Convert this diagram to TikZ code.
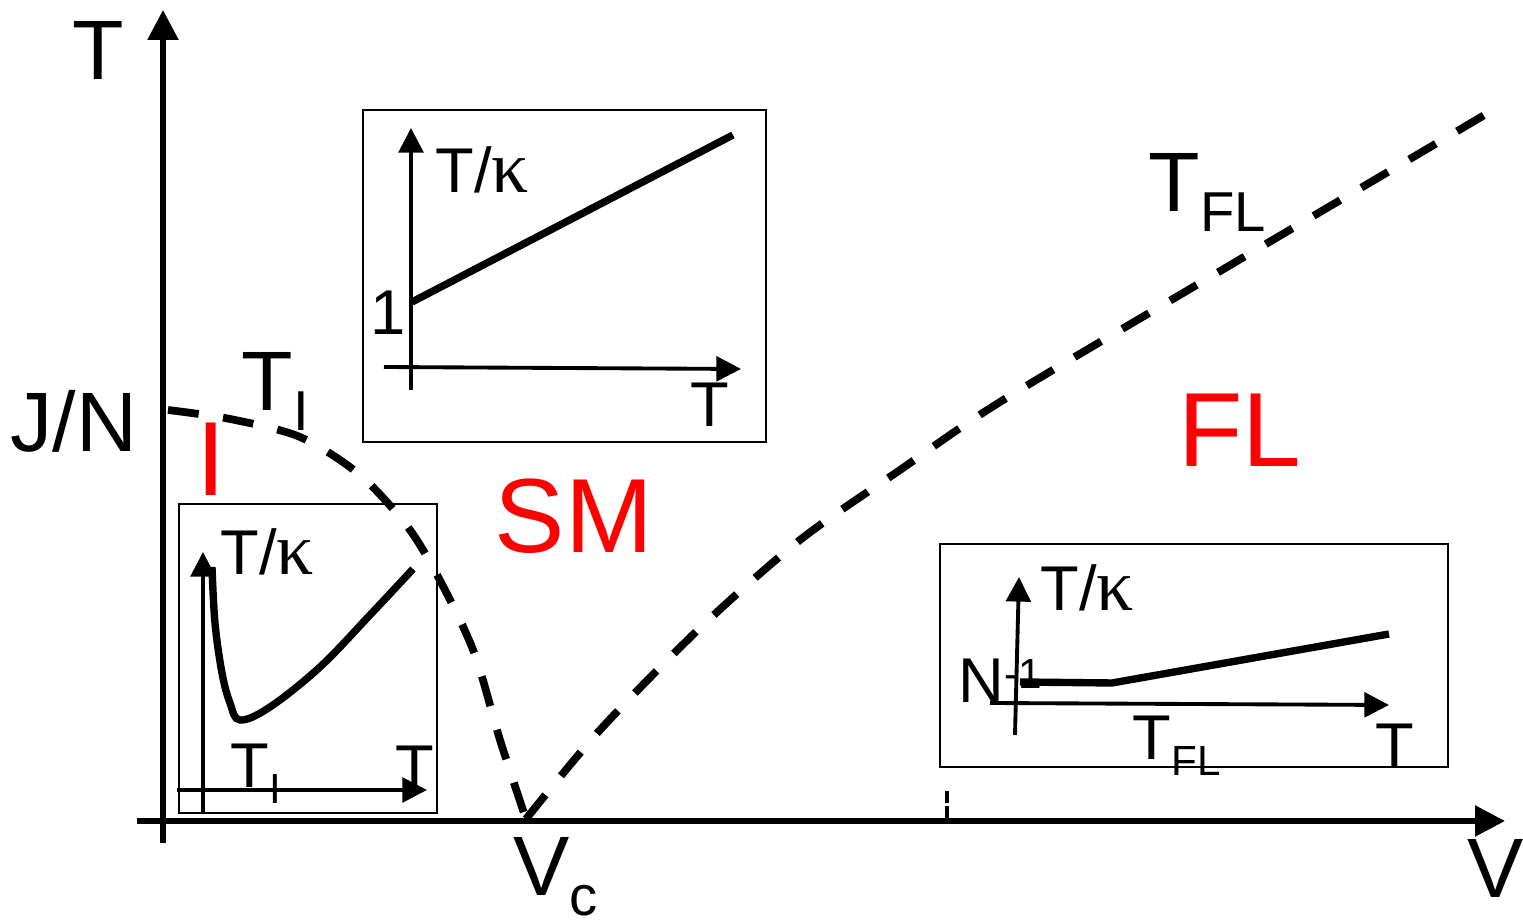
\documentclass[tikz,border=0pt]{standalone}
\usepackage{fontspec}
\setmainfont{Liberation Sans}
\newfontfamily\kapfont{Liberation Serif}
\usetikzlibrary{arrows.meta}

\newcommand{\Tk}{T/{\kapfont\fontsize{21}{21}\selectfont κ}}
\newcommand{\bigsub}[1]{\raisebox{-5.6pt}{\fontsize{16}{16}\selectfont #1}}
\newcommand{\insub}[1]{\raisebox{-4.3pt}{\fontsize{12}{12}\selectfont #1}}

\tikzset{
    axis/.style={line width=1.6pt, -{Triangle[length=8.5pt,width=8.5pt]}},
    inaxis/.style={line width=1.1pt, -{Triangle[length=7pt,width=7pt]}},
    insetbox/.style={line width=0.6pt},
    crossover/.style={line width=2.2pt, dash pattern=on 8.8pt off 7pt},
    response/.style={line width=2.1pt},
    biglabel/.style={font=\fontsize{24}{24}\selectfont, inner sep=0pt, anchor=base},
    phase/.style={text=red, font=\fontsize{30}{30}\selectfont, inner sep=0pt, anchor=base},
    inlabel/.style={font=\fontsize{18}{18}\selectfont, inner sep=0pt, anchor=base},
}

\begin{document}
\begin{tikzpicture}
    \useasboundingbox (0,0) rectangle (15.23,9.21);

    % Phase diagram axes
    \coordinate (Tlo) at (1.63,0.78);
    \coordinate (Thi) at (1.63,9.11);
    \coordinate (Vlo) at (1.37,1.00);
    \coordinate (Vhi) at (15.05,1.00);
    \coordinate (Vc) at (5.26,1.02);
    \draw[axis] (Tlo) -- (Thi);
    \draw[axis] (Vlo) -- (Vhi);
    \node[biglabel] (labT) at (0.985,8.41) {T};
    \node[biglabel] (labV) at (14.96,0.23) {V};
    \node[biglabel] (labJN) at (0.74,4.69) {J/N};
    \node[biglabel, anchor=base west] (labVc) at (5.13,0.25) {V\bigsub{c}};

    % small mark on the V axis
    \coordinate (mlo) at (9.47,1.03);
    \coordinate (mhi) at (9.47,1.31);
    \draw[line width=1.2pt, dash pattern=on 3.4pt off 1pt] (mlo) -- (mhi);

    % Inset: semimetal
    \draw[insetbox] (3.63,4.79) rectangle (7.66,8.11);
    \coordinate (smY0) at (4.11,5.31);
    \coordinate (smY1) at (4.11,7.93);
    \coordinate (smX0) at (3.84,5.54);
    \coordinate (smX1) at (7.41,5.52);
    \draw[inaxis] (smY0) -- (smY1);
    \draw[inaxis] (smX0) -- (smX1);
    \draw[response] (4.12,6.19) -- (7.33,7.86);
    \node[inlabel, anchor=base west] (smTk) at (4.35,7.28) {\Tk};
    \node[inlabel] (smOne) at (3.88,5.86) {1};
    \node[inlabel] (smT) at (7.10,4.94) {T};

    % Inset: insulator
    \draw[insetbox] (1.79,1.08) rectangle (4.37,4.17);
    \coordinate (inY0) at (2.03,1.08);
    \coordinate (inY1) at (2.03,3.69);
    \coordinate (inX0) at (1.77,1.31);
    \coordinate (inX1) at (4.27,1.31);
    \draw[inaxis] (inY0) -- (inY1);
    \draw[inaxis] (inX0) -- (inX1);
    \draw[response] plot[smooth, tension=0.6] coordinates {
        (2.12,3.54) (2.15,2.98) (2.22,2.48) (2.30,2.18) (2.40,2.01)
        (2.70,2.14) (3.20,2.54) (3.70,3.06) (4.13,3.52)
    };
    \node[inlabel, anchor=base west] (inTk) at (2.20,3.46) {\Tk};
    \node[inlabel, anchor=base west] (inTI) at (2.30,1.33) {T\insub{I}};
    \node[inlabel] (inT) at (4.15,1.31) {T};

    % Inset: Fermi liquid
    \draw[insetbox] (9.40,1.54) rectangle (14.48,3.77);
    \node[inlabel, anchor=base west] (flN) at (9.58,2.18) {N\raisebox{4pt}{\fontsize{12}{12}\selectfont -1}};
    \coordinate (flY0) at (10.15,1.86);
    \coordinate (flY1) at (10.19,3.44);
    \coordinate (flX0) at (9.90,2.18);
    \coordinate (flX1) at (13.89,2.16);
    \draw[inaxis] (flY0) -- (flY1);
    \draw[inaxis] (flX0) -- (flX1);
    \draw[response] (10.20,2.39) -- (11.12,2.38) -- (13.89,2.87);
    \node[inlabel, anchor=base west] (flTk) at (10.40,3.10) {\Tk};
    \node[inlabel, anchor=base west] (flTFL) at (11.32,1.61) {T\insub{FL}};
    \node[inlabel] (flT) at (13.95,1.53) {T};

    % Crossover lines
    \draw[crossover] plot[smooth] coordinates {
        (1.68,5.11) (2.30,5.02) (3.00,4.84) (3.60,4.46) (4.10,3.91)
        (4.45,3.31) (4.75,2.66) (5.00,1.81) (Vc)
    };
    \draw[crossover] plot[smooth] coordinates {
        (Vc) (6.00,1.91) (7.00,2.93) (8.00,3.81) (9.00,4.51)
        (10.00,5.19) (12.00,6.38) (14.93,8.11)
    };
    \node[biglabel, anchor=base west] (labTI) at (2.41,5.105) {T\bigsub{I}};
    \node[biglabel, anchor=base west] (labTFL) at (11.48,7.09) {T\bigsub{FL}};

    % Phases
    \node[phase] (phI) at (2.11,4.25) {I};
    \node[phase] (phSM) at (5.74,3.68) {SM};
    \node[phase] (phFL) at (12.40,4.54) {FL};
\end{tikzpicture}
\end{document}
